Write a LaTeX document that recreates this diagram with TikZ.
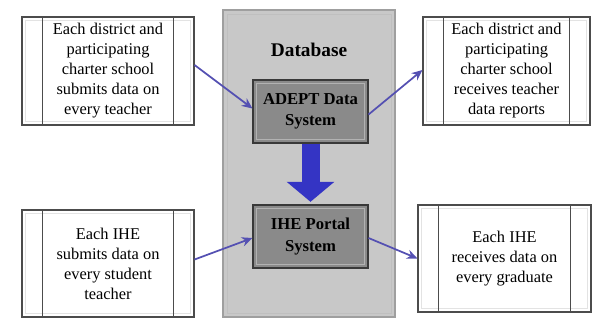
\documentclass[tikz,border=0pt]{standalone}
\usepackage{fontspec}
\setmainfont{Liberation Serif}
\usetikzlibrary{arrows.meta}
\definecolor{flowblue}{RGB}{84,80,178}
\definecolor{bigblue}{RGB}{52,52,196}
\definecolor{dbgray}{RGB}{200,200,200}
\definecolor{sysgray}{RGB}{138,138,138}

\begin{document}
\begin{tikzpicture}[x=0.75pt, y=-0.75pt]% Database flow
			\tikzstyle{txtbox} = [rectangle, draw=gray!60!black, line width=0.8pt, fill=white, align=center, inner sep=0pt, font=\fontsize{12.3}{15}\selectfont]
			\tikzstyle{sysbox} = [rectangle, draw=gray!45!black, line width=0.8pt, fill=sysgray, align=center, inner sep=0pt, font=\bfseries\fontsize{12.5}{16}\selectfont]
			\tikzstyle{inset} = [gray!22, line width=0.6pt]
			\tikzstyle{flow} = [flowblue, line width=1.3pt, -{Stealth[length=8pt, width=7pt]}]
			\useasboundingbox (0,0) rectangle (592,321);
			
			\node (db) [rectangle, draw=gray!75, line width=1.6pt, fill=dbgray, minimum width=129pt, minimum height=230.25pt] at (309,163.5) {};
			\draw[gray!50, line width=0.6pt] ([shift={(5,5)}]db.north west) rectangle ([shift={(-5,-5)}]db.south east);
			\node (dbtitle) [font=\bfseries\fontsize{14.5}{17}\selectfont] at (309,50) {Database};
			
			\node (adept) [sysbox, minimum width=86.25pt, minimum height=47.25pt] at (310.5,111.5) {ADEPT Data\\System};
			\node (ihe) [sysbox, minimum width=86.25pt, minimum height=47.25pt] at (310.5,236.5) {IHE Portal\\System};
			\foreach \n in {adept,ihe}
				\draw[gray!60, line width=0.6pt] ([shift={(4,4)}]\n.north west) rectangle ([shift={(-4,-4)}]\n.south east);
			
			\node (tl) [txtbox, minimum width=129pt, minimum height=81pt] at (108,71) {Each district and\\participating\\charter school\\submits data on\\every teacher};
			\node (bl) [txtbox, minimum width=129pt, minimum height=80.25pt] at (108,263.5) {Each IHE\\submits data on\\every student\\teacher};
			\node (tr) [txtbox, minimum width=125.25pt, minimum height=81pt] at (506.5,71) {Each district and\\participating\\charter school\\receives teacher\\data reports};
			\node (br) [txtbox, minimum width=129.75pt, minimum height=80.25pt] at (504.5,258.5) {Each IHE\\receives data on\\every graduate};
			
			\foreach \n in {tl,bl,tr,br} {
				\draw[inset] ([shift={(4,4)}]\n.north west) rectangle ([shift={(-4,-4)}]\n.south east);
				\draw[gray!60!black, line width=0.8pt] ([shift={(21,0)}]\n.north west) -- ([shift={(21,0)}]\n.south west);
				\draw[gray!60!black, line width=0.8pt] ([shift={(-21,0)}]\n.north east) -- ([shift={(-21,0)}]\n.south east);
			}
			
			\draw[flow] ([shift={(0,-6)}]tl.east) -- ([shift={(0,-3)}]adept.west);
			\draw[flow] ([shift={(0,3)}]adept.east) -- ([shift={(0,-1)}]tr.west);
			\draw[flow] ([shift={(0,-4)}]bl.east) -- ([shift={(0,1.5)}]ihe.west);
			\draw[flow] ([shift={(0,1.5)}]ihe.east) -- (br.west);
			
			\draw[bigblue, line width=13.5pt, -{Triangle[width=35pt, length=15pt]}, shorten >=2pt] (adept.south) -- (ihe.north);
			
	\end{tikzpicture}
\end{document}
